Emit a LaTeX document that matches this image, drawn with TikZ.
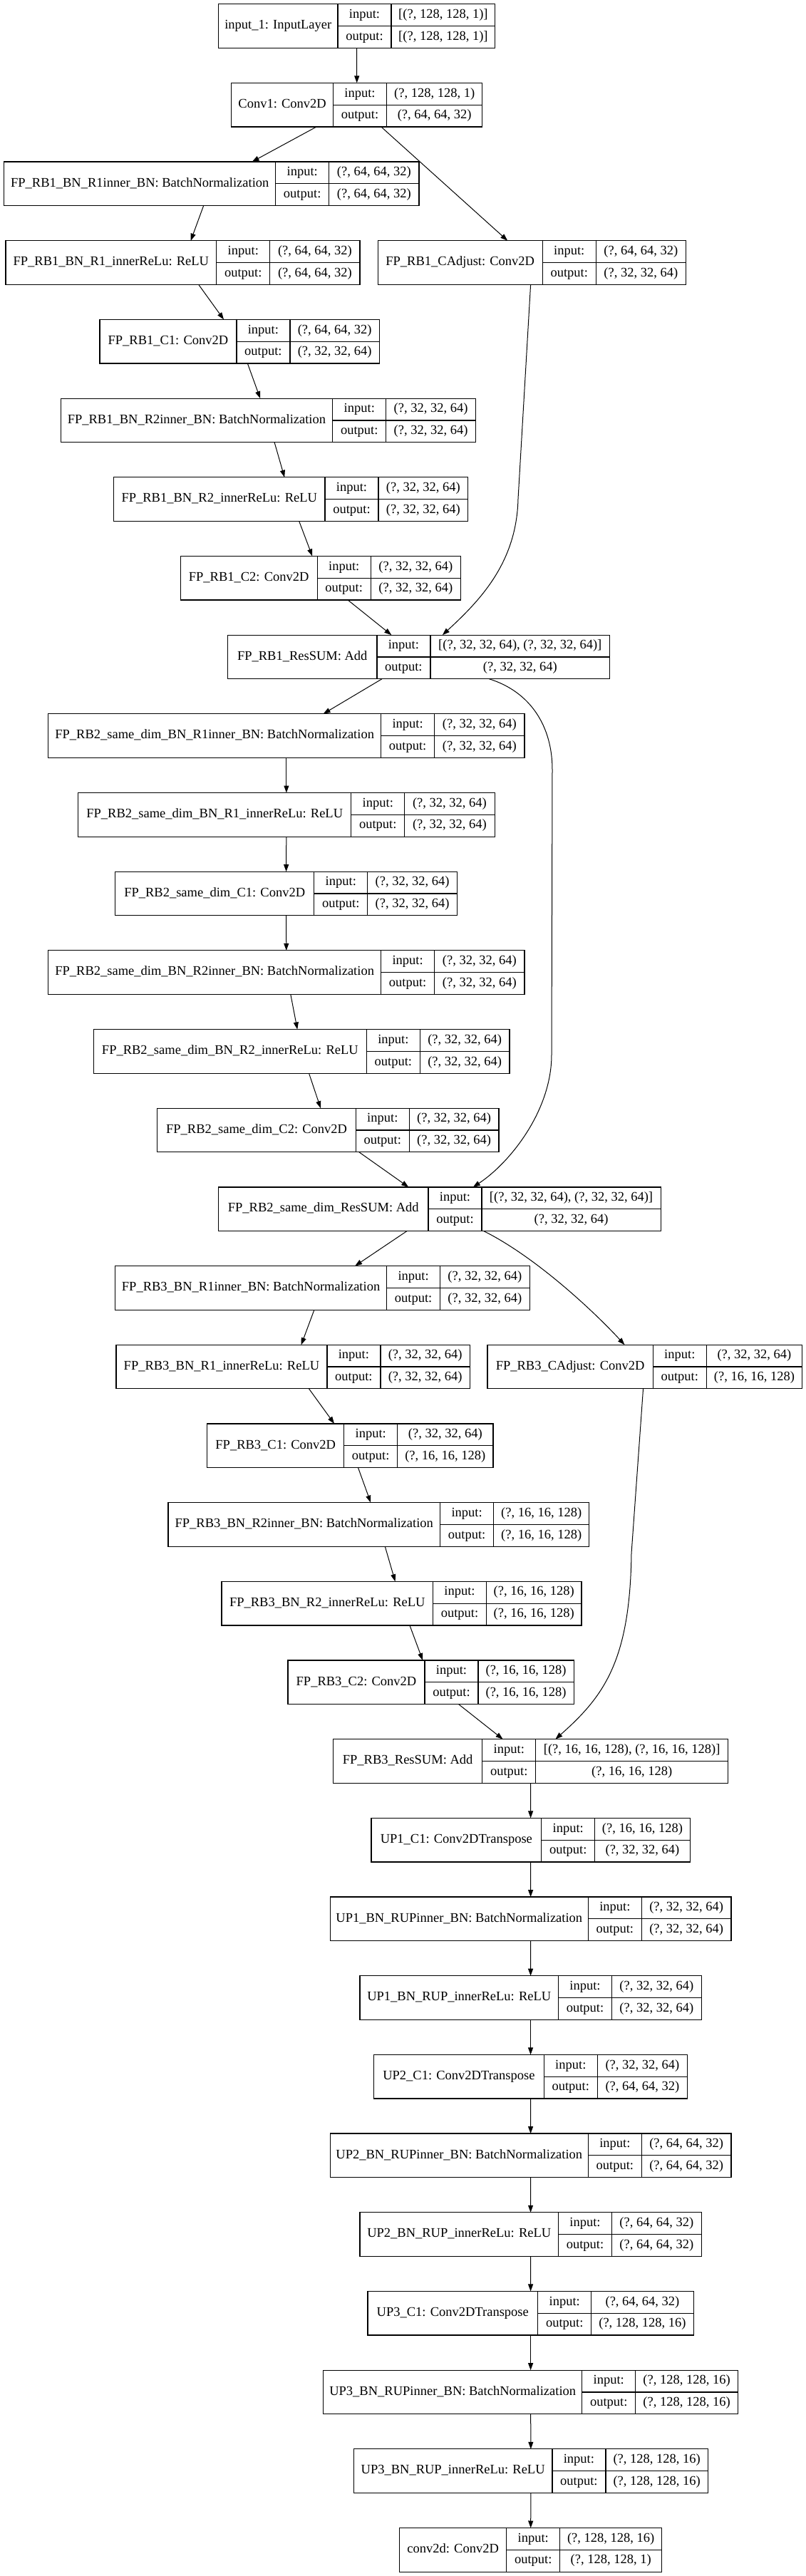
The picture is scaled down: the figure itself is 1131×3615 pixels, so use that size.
\documentclass[tikz,border=0pt]{standalone}
\usepackage{fontspec}
\setmainfont{Liberation Serif}
\usetikzlibrary{arrows.meta}

\tikzset{
  layerbox/.style={draw, line width=1.2pt, inner sep=0pt, outer sep=0pt, minimum height=61.6pt},
  celltext/.style={inner sep=0pt, text height=12.5pt, text depth=4pt},
  conn/.style={line width=1pt, -{Triangle[length=10pt,width=7pt]}},
}

% one keras layer: id, level, left, split, right, label, input, output
\newcommand{\kLayer}[8]{%
  \pgfmathsetmacro{\kTop}{5.7+110.68*#2}
  \pgfmathsetmacro{\kMid}{\kTop+30.8}
  \pgfmathsetmacro{\kBot}{\kTop+61.6}
  \pgfmathsetmacro{\kW}{#5-#3}
  \pgfmathsetmacro{\kSplit}{#4+75}
  \node[layerbox, minimum width=\kW pt, anchor=north west] (#1) at (#3,\kTop) {};
  \draw[line width=1.2pt] (#4,\kTop) -- (#4,\kBot);
  \draw[line width=1.2pt] (\kSplit,\kTop) -- (\kSplit,\kBot);
  \draw[line width=1.2pt] (#4,\kMid) -- (#5,\kMid);
  \node[celltext] (#1-n) at ({(#3+#4)/2},\kMid) {#6};
  \node[celltext] (#1-ik) at ({#4+37.5},{\kTop+15.4}) {input:};
  \node[celltext] (#1-ok) at ({#4+37.5},{\kTop+46.2}) {output:};
  \node[celltext] (#1-iv) at ({(\kSplit+#5)/2},{\kTop+15.4}) {#7};
  \node[celltext] (#1-ov) at ({(\kSplit+#5)/2},{\kTop+46.2}) {#8};
}

\begin{document}
\begin{tikzpicture}[x=1pt, y=-1pt, font=\fontsize{18.5}{20}\selectfont]
    \useasboundingbox (0,0) rectangle (1131,3615);

    \kLayer{in1}{0}{306.6}{474}{694.8}{input\_1: InputLayer}{[(?, 128, 128, 1)]}{[(?, 128, 128, 1)]}
    \kLayer{conv1}{1}{324.7}{467.5}{676.8}{Conv1: Conv2D}{(?, 128, 128, 1)}{(?, 64, 64, 32)}
    \kLayer{rb1bn1}{2}{5.8}{386.7}{588}{FP\_RB1\_BN\_R1inner\_BN: BatchNormalization}{(?, 64, 64, 32)}{(?, 64, 64, 32)}
    \kLayer{rb1relu1}{3}{7.9}{303.8}{505}{FP\_RB1\_BN\_R1\_innerReLu: ReLU}{(?, 64, 64, 32)}{(?, 64, 64, 32)}
    \kLayer{rb1cadj}{3}{530.3}{761.2}{962.5}{FP\_RB1\_CAdjust: Conv2D}{(?, 64, 64, 32)}{(?, 32, 32, 64)}
    \kLayer{rb1c1}{4}{140}{331.9}{532.5}{FP\_RB1\_C1: Conv2D}{(?, 64, 64, 32)}{(?, 32, 32, 64)}
    \kLayer{rb1bn2}{5}{85.1}{466.8}{667.4}{FP\_RB1\_BN\_R2inner\_BN: BatchNormalization}{(?, 32, 32, 64)}{(?, 32, 32, 64)}
    \kLayer{rb1relu2}{6}{159.5}{456}{656.6}{FP\_RB1\_BN\_R2\_innerReLu: ReLU}{(?, 32, 32, 64)}{(?, 32, 32, 64)}
    \kLayer{rb1c2}{7}{253.2}{445.2}{646.5}{FP\_RB1\_C2: Conv2D}{(?, 32, 32, 64)}{(?, 32, 32, 64)}
    \kLayer{rb1sum}{8}{319.6}{528.9}{855.7}{FP\_RB1\_ResSUM: Add}{[(?, 32, 32, 64), (?, 32, 32, 64)]}{(?, 32, 32, 64)}
    \kLayer{rb2bn1}{9}{67.8}{534.6}{736}{FP\_RB2\_same\_dim\_BN\_R1inner\_BN: BatchNormalization}{(?, 32, 32, 64)}{(?, 32, 32, 64)}
    \kLayer{rb2relu1}{10}{109.7}{492.8}{694.1}{FP\_RB2\_same\_dim\_BN\_R1\_innerReLu: ReLU}{(?, 32, 32, 64)}{(?, 32, 32, 64)}
    \kLayer{rb2c1}{11}{161.6}{440.8}{641.4}{FP\_RB2\_same\_dim\_C1: Conv2D}{(?, 32, 32, 64)}{(?, 32, 32, 64)}
    \kLayer{rb2bn2}{12}{67.8}{534.6}{736}{FP\_RB2\_same\_dim\_BN\_R2inner\_BN: BatchNormalization}{(?, 32, 32, 64)}{(?, 32, 32, 64)}
    \kLayer{rb2relu2}{13}{131.3}{514.4}{715}{FP\_RB2\_same\_dim\_BN\_R2\_innerReLu: ReLU}{(?, 32, 32, 64)}{(?, 32, 32, 64)}
    \kLayer{rb2c2}{14}{220.8}{499.3}{699.9}{FP\_RB2\_same\_dim\_C2: Conv2D}{(?, 32, 32, 64)}{(?, 32, 32, 64)}
    \kLayer{rb2sum}{15}{306.6}{601}{927.1}{FP\_RB2\_same\_dim\_ResSUM: Add}{[(?, 32, 32, 64), (?, 32, 32, 64)]}{(?, 32, 32, 64)}
    \kLayer{rb3bn1}{16}{161.6}{542.6}{743.1}{FP\_RB3\_BN\_R1inner\_BN: BatchNormalization}{(?, 32, 32, 64)}{(?, 32, 32, 64)}
    \kLayer{rb3relu1}{17}{163}{458.9}{659.5}{FP\_RB3\_BN\_R1\_innerReLu: ReLU}{(?, 32, 32, 64)}{(?, 32, 32, 64)}
    \kLayer{rb3cadj}{17}{684}{916.3}{1125.5}{FP\_RB3\_CAdjust: Conv2D}{(?, 32, 32, 64)}{(?, 16, 16, 128)}
    \kLayer{rb3c1}{18}{290.8}{482.7}{691.9}{FP\_RB3\_C1: Conv2D}{(?, 32, 32, 64)}{(?, 16, 16, 128)}
    \kLayer{rb3bn2}{19}{235.9}{617.6}{826.8}{FP\_RB3\_BN\_R2inner\_BN: BatchNormalization}{(?, 16, 16, 128)}{(?, 16, 16, 128)}
    \kLayer{rb3relu2}{20}{311}{607.5}{816}{FP\_RB3\_BN\_R2\_innerReLu: ReLU}{(?, 16, 16, 128)}{(?, 16, 16, 128)}
    \kLayer{rb3c2}{21}{404}{596}{805.2}{FP\_RB3\_C2: Conv2D}{(?, 16, 16, 128)}{(?, 16, 16, 128)}
    \kLayer{rb3sum}{22}{467.5}{676.8}{1021.6}{FP\_RB3\_ResSUM: Add}{[(?, 16, 16, 128), (?, 16, 16, 128)]}{(?, 16, 16, 128)}
    \kLayer{up1c1}{23}{521}{759.7}{968.3}{UP1\_C1: Conv2DTranspose}{(?, 16, 16, 128)}{(?, 32, 32, 64)}
    \kLayer{up1bn}{24}{463.2}{825.4}{1026}{UP1\_BN\_RUPinner\_BN: BatchNormalization}{(?, 32, 32, 64)}{(?, 32, 32, 64)}
    \kLayer{up1relu}{25}{505}{783.5}{984.1}{UP1\_BN\_RUP\_innerReLu: ReLU}{(?, 32, 32, 64)}{(?, 32, 32, 64)}
    \kLayer{up2c1}{26}{524.5}{763.3}{964.6}{UP2\_C1: Conv2DTranspose}{(?, 32, 32, 64)}{(?, 64, 64, 32)}
    \kLayer{up2bn}{27}{463.2}{825.4}{1026}{UP2\_BN\_RUPinner\_BN: BatchNormalization}{(?, 64, 64, 32)}{(?, 64, 64, 32)}
    \kLayer{up2relu}{28}{505}{783.5}{984.1}{UP2\_BN\_RUP\_innerReLu: ReLU}{(?, 64, 64, 32)}{(?, 64, 64, 32)}
    \kLayer{up3c1}{29}{515.9}{754.7}{973.3}{UP3\_C1: Conv2DTranspose}{(?, 64, 64, 32)}{(?, 128, 128, 16)}
    \kLayer{up3bn}{30}{453.8}{816.7}{1035.4}{UP3\_BN\_RUPinner\_BN: BatchNormalization}{(?, 128, 128, 16)}{(?, 128, 128, 16)}
    \kLayer{up3relu}{31}{496.4}{774.9}{993.5}{UP3\_BN\_RUP\_innerReLu: ReLU}{(?, 128, 128, 16)}{(?, 128, 128, 16)}
    \kLayer{outconv}{32}{560.6}{710.7}{928.6}{conv2d: Conv2D}{(?, 128, 128, 16)}{(?, 128, 128, 1)}

    % straight edges
    \foreach \a/\b in {in1/conv1, conv1/rb1bn1, conv1/rb1cadj, rb1bn1/rb1relu1, rb1relu1/rb1c1,
        rb1c1/rb1bn2, rb1bn2/rb1relu2, rb1relu2/rb1c2, rb1c2/rb1sum, rb1sum/rb2bn1,
        rb2bn1/rb2relu1, rb2relu1/rb2c1, rb2c1/rb2bn2, rb2bn2/rb2relu2, rb2relu2/rb2c2,
        rb2c2/rb2sum, rb2sum/rb3bn1, rb3bn1/rb3relu1, rb3relu1/rb3c1, rb3c1/rb3bn2,
        rb3bn2/rb3relu2, rb3relu2/rb3c2, rb3c2/rb3sum, rb3sum/up1c1, up1c1/up1bn,
        up1bn/up1relu, up1relu/up2c1, up2c1/up2bn, up2bn/up2relu, up2relu/up3c1,
        up3c1/up3bn, up3bn/up3relu, up3relu/outconv}
        \draw[conn] (\a) -- (\b);

    % skip connections
    \draw[conn] (rb1cadj) -- (727,700) .. controls (725,790) and (673,843) .. (rb1sum);
    \draw[conn] (rb1sum) .. controls (745,971) and (775,1020) .. (775,1080)
        -- (774,1480) .. controls (774,1560) and (714,1633) .. (rb2sum);
    \draw[conn] (rb2sum) .. controls (752,1764) and (834,1841) .. (rb3cadj);
    \draw[conn] (rb3cadj) -- (886,2180) .. controls (884,2330) and (848,2380) .. (rb3sum);
\end{tikzpicture}
\end{document}
